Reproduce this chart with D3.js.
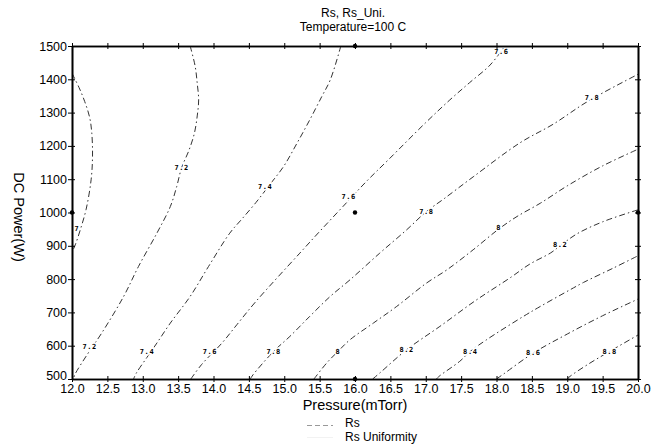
<!DOCTYPE html>
<html>
<head>
<meta charset="utf-8">
<script src="https://cdn.jsdelivr.net/npm/d3@7/dist/d3.min.js"></script>
<style>
  body { margin: 0; background: #fff; }
  svg { display: block; font-family: "Liberation Sans", Arial, sans-serif; }
  .axis path, .axis line { stroke: #000; }
  .axis text { font-size: 12.5px; fill: #000; font-family: "Liberation Sans", Arial, sans-serif; }
  .contour { fill: none; stroke: #333; stroke-width: 1; stroke-dasharray: 6 3 1.5 3; }
  .clabel { font-family: "DejaVu Sans Mono", monospace; font-size: 7px; font-weight: bold; letter-spacing: 0.6px; }
</style>
</head>
<body>
<svg id="chart" width="669" height="447"></svg>
<script>
var pressureTicks = [12.0, 12.5, 13.0, 13.5, 14.0, 14.5, 15.0, 15.5, 16.0, 16.5, 17.0, 17.5, 18.0, 18.5, 19.0, 19.5, 20.0]
var powerTicks = [500, 600, 700, 800, 900, 1000, 1100, 1200, 1300, 1400, 1500]

// Rs contour lines: [pressure, power]
var rs70 = [[12.0, 1418], [12.1, 1375], [12.18, 1333], [12.25, 1285], [12.28, 1238], [12.29, 1168], [12.27, 1098], [12.2, 1010], [12.12, 950], [12.05, 905], [12.0, 880]]
var rs72 = [[13.67, 1500], [13.74, 1440], [13.77, 1388], [13.79, 1338], [13.77, 1290], [13.73, 1238], [13.65, 1185], [13.55, 1135], [13.48, 1078], [13.39, 1018], [13.2, 938], [12.94, 838], [12.73, 748], [12.42, 638], [12.22, 575], [12.04, 513], [12.02, 500]]
var rs74 = [[15.8, 1500], [15.65, 1398], [15.53, 1348], [15.36, 1278], [15.18, 1208], [14.99, 1138], [14.8, 1085], [14.6, 1030], [14.4, 980], [14.23, 938], [13.93, 838], [13.67, 748], [13.39, 668], [13.2, 608], [13.06, 565], [12.91, 518], [12.87, 500]]
var rs76 = [[13.68, 500], [13.83, 543], [14.12, 608], [14.33, 663], [14.6, 733], [15.22, 878], [15.5, 943], [15.83, 1018], [16.16, 1093], [16.47, 1158], [17.0, 1270], [17.34, 1338], [17.62, 1390], [17.91, 1443], [18.12, 1500]]
var rs78 = [[14.52, 500], [14.56, 513], [14.85, 583], [15.08, 628], [15.36, 688], [15.65, 748], [15.93, 798], [16.35, 878], [16.73, 948], [17.01, 1003], [17.25, 1040], [17.67, 1107], [18.33, 1209], [18.8, 1265], [19.3, 1335], [20.0, 1415]]
var rs80 = [[15.42, 500], [15.6, 548], [15.76, 583], [15.93, 618], [16.26, 668], [16.59, 718], [17.01, 788], [17.3, 828], [17.67, 888], [18.03, 950], [18.29, 988], [18.62, 1028], [19.0, 1080], [19.5, 1140], [20.0, 1190]]
var rs82 = [[16.25, 500], [16.35, 518], [16.73, 588], [17.2, 658], [17.7, 735], [18.2, 805], [18.47, 845], [18.76, 878], [18.9, 900], [19.13, 935], [19.5, 972], [20.0, 1008]]
var rs84 = [[17.15, 500], [17.2, 510], [17.48, 553], [17.63, 583], [17.86, 618], [18.38, 688], [18.62, 718], [19.04, 768], [19.23, 790], [19.65, 833], [20.0, 870]]
var rs86 = [[18.0, 500], [18.1, 515], [18.52, 578], [19.0, 635], [19.5, 690], [20.0, 740]]
var rs88 = [[19.0, 500], [19.04, 508], [19.3, 545], [19.6, 583], [20.0, 632]]

var contourLevels = [7.0, 7.2, 7.4, 7.6, 7.8, 8.0, 8.2, 8.4, 8.6, 8.8]
var contourLines = [rs70, rs72, rs74, rs76, rs78, rs80, rs82, rs84, rs86, rs88]

// label positions on the lines: [pressure, power, text]
var contourLabels = [
  [12.25, 598, "7.2"], [13.06, 583, "7.4"], [13.95, 583, "7.6"], [14.85, 583, "7.8"], [15.76, 583, "8"],
  [16.73, 588, "8.2"], [17.63, 583, "8.4"], [18.52, 578, "8.6"], [19.6, 583, "8.8"],
  [12.07, 951, "7"], [13.55, 1135, "7.2"], [14.73, 1078, "7.4"], [15.91, 1048, "7.6"], [17.01, 1003, "7.8"],
  [18.03, 956, "8"], [18.9, 903, "8.2"], [18.07, 1483, "7.6"], [19.35, 1344, "7.8"]
]

// design points
var designPressure = [12.0, 16.0, 16.0, 16.0, 20.0]
var designPower = [1000, 500, 1000, 1500, 1000]

var seriesNames = ["Rs", "Rs Uniformity"]

var margin = { top: 46, right: 31, bottom: 68, left: 72 }
var width = 669 - margin.left - margin.right
var height = 447 - margin.top - margin.bottom

var svg = d3.select("#chart")

var x = d3.scaleLinear().domain([12, 20]).range([0, width])
var y = d3.scaleLinear().domain([500, 1500]).range([height, 0])

var g = svg.append("g")
  .attr("transform", "translate(" + margin.left + "," + margin.top + ")")

g.append("clipPath").attr("id", "plot-clip")
  .append("rect")
  .attr("width", width)
  .attr("height", height)

var line = d3.line()
  .x(function(d) { return x(d[0]) })
  .y(function(d) { return y(d[1]) })
  .curve(d3.curveCatmullRom.alpha(0.5))

g.append("g")
  .attr("clip-path", "url(#plot-clip)")
  .selectAll(".contour")
  .data(contourLines)
  .enter().append("path")
  .attr("class", "contour")
  .attr("d", line)

g.selectAll(".clabel")
  .data(contourLabels)
  .enter().append("text")
  .attr("class", "clabel")
  .attr("x", function(d) { return x(d[0]) })
  .attr("y", function(d) { return y(d[1]) })
  .attr("dy", "0.35em")
  .attr("text-anchor", "middle")
  .attr("stroke", "#fff")
  .attr("stroke-width", 3)
  .attr("paint-order", "stroke")
  .attr("fill", "#000")
  .text(function(d) { return d[2] })

// axes, ticks cross the frame
g.append("g")
  .attr("class", "axis")
  .attr("transform", "translate(0," + height + ")")
  .call(d3.axisBottom(x).tickValues(pressureTicks).tickSize(3).tickSizeOuter(0).tickPadding(2).tickFormat(d3.format(".1f")))

g.append("g")
  .attr("class", "axis")
  .attr("transform", "translate(0," + height + ")")
  .call(d3.axisTop(x).tickValues(pressureTicks).tickSize(3).tickSizeOuter(0).tickFormat(""))

g.append("g")
  .attr("class", "axis")
  .call(d3.axisTop(x).tickValues(pressureTicks).tickSize(3).tickSizeOuter(0).tickFormat(""))

g.append("g")
  .attr("class", "axis")
  .call(d3.axisBottom(x).tickValues(pressureTicks).tickSize(3).tickSizeOuter(0).tickFormat(""))

var yAxisG = g.append("g")
  .attr("class", "axis")
  .call(d3.axisLeft(y).tickValues(powerTicks).tickSize(4).tickSizeOuter(0).tickPadding(1).tickFormat(d3.format("d")))

// the lowest power label sits a little above its tick
yAxisG.selectAll(".tick text")
  .attr("dy", function(d) { return d === 500 ? "0.05em" : "0.32em" })

g.append("g")
  .attr("class", "axis")
  .call(d3.axisRight(y).tickValues(powerTicks).tickSize(3).tickSizeOuter(0).tickFormat(""))

g.append("g")
  .attr("class", "axis")
  .attr("transform", "translate(" + width + ",0)")
  .call(d3.axisRight(y).tickValues(powerTicks).tickSize(3).tickSizeOuter(0).tickFormat(""))

g.append("g")
  .attr("class", "axis")
  .attr("transform", "translate(" + width + ",0)")
  .call(d3.axisLeft(y).tickValues(powerTicks).tickSize(3).tickSizeOuter(0).tickFormat(""))

g.selectAll(".axis path.domain").attr("stroke-width", 1.6)

g.selectAll(".design")
  .data(designPressure)
  .enter().append("circle")
  .attr("class", "design")
  .attr("cx", function(d) { return x(d) })
  .attr("cy", function(d, i) { return y(designPower[i]) })
  .attr("r", 2.2)
  .attr("fill", "#000")

// titles
svg.append("text")
  .attr("x", 353).attr("y", 17)
  .attr("text-anchor", "middle")
  .attr("font-size", "12px")
  .text("Rs, Rs_Uni.")

svg.append("text")
  .attr("x", 353).attr("y", 31)
  .attr("text-anchor", "middle")
  .attr("font-size", "12px")
  .text("Temperature=100 C")

svg.append("text")
  .attr("x", margin.left + width / 2).attr("y", 410)
  .attr("text-anchor", "middle")
  .attr("font-size", "14.5px")
  .text("Pressure(mTorr)")

svg.append("text")
  .attr("transform", "translate(14,217) rotate(90)")
  .attr("text-anchor", "middle")
  .attr("font-size", "14.5px")
  .text("DC Power(W)")

// legend
var legend = svg.append("g")
  .attr("transform", "translate(307,0)")

legend.append("line")
  .attr("x1", 0).attr("x2", 26)
  .attr("y1", 425.5).attr("y2", 425.5)
  .attr("stroke", "#999")
  .attr("stroke-width", 1)
  .attr("stroke-dasharray", "5 3")

legend.append("line")
  .attr("x1", 0).attr("x2", 26)
  .attr("y1", 437.5).attr("y2", 437.5)
  .attr("stroke", "#f2f2f2")
  .attr("stroke-width", 1)

legend.selectAll(".legend-text")
  .data(seriesNames)
  .enter().append("text")
  .attr("class", "legend-text")
  .attr("x", 38)
  .attr("y", function(d, i) { return 427 + i * 13.5 })
  .attr("font-size", "12px")
  .text(function(d) { return d })
</script>
</body>
</html>
